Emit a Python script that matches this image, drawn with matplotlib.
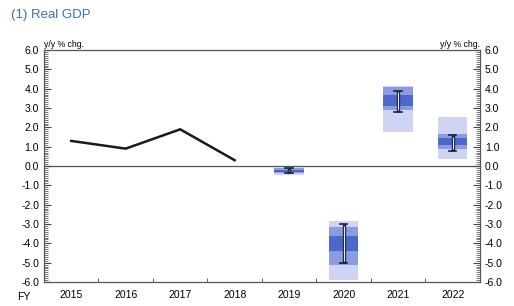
import numpy as np
import matplotlib
matplotlib.use("Agg")
import matplotlib.pyplot as plt
from matplotlib.ticker import MultipleLocator

plt.rcParams['font.family'] = ['Liberation Sans', 'DejaVu Sans']

# Dados
years = ['2015', '2016', '2017', '2018', '2019', '2020', '2021', '2022']
actual = [1.3, 0.9, 1.9, 0.3]

# distribuição das previsões (2019-2022)
outer_lo = [-0.45, -5.9, 1.75, 0.35]
outer_hi = [-0.05, -2.85, 4.15, 2.55]
mid_lo = [-0.35, -5.1, 2.9, 0.9]
mid_hi = [-0.1, -3.15, 4.1, 1.65]
inner_lo = [-0.3, -4.4, 3.1, 1.1]
inner_hi = [-0.2, -3.6, 3.7, 1.45]
range_lo = [-0.35, -5.0, 2.8, 0.8]
range_hi = [-0.1, -3.0, 3.9, 1.6]

x = np.arange(len(years))
xf = x[len(actual):]

fig = plt.figure(figsize=(5.14, 3.06), dpi=100)
ax = fig.add_axes([0.0856, 0.0784, 0.848, 0.758])

w = 0.54
cores = [('#cfd3f4', outer_lo, outer_hi), ('#8a9be0', mid_lo, mid_hi), ('#4a69c9', inner_lo, inner_hi)]
for cor, lo, hi in cores:
    ax.bar(xf, np.array(hi) - np.array(lo), bottom=lo, width=w, color=cor, linewidth=0, zorder=2)

# barras de intervalo
for xi, lo, hi in zip(xf, range_lo, range_hi):
    ax.plot([xi, xi], [lo, hi], color='#1a1f3a', lw=2.4, solid_capstyle='butt', zorder=4)
    ax.plot([xi, xi], [lo + 0.08, hi - 0.08], color='#e8ecff', lw=0.8, solid_capstyle='butt', zorder=5)
    for yy in (lo, hi):
        ax.plot([xi - 0.07, xi + 0.07], [yy, yy], color='#1a1f3a', lw=1.2, zorder=5)

ax.plot(x[:len(actual)], actual, color='#1a1a1a', lw=1.8, zorder=3)
ax.axhline(0, color='#555555', lw=0.9, zorder=1)

ax.set_xlim(-0.5, len(years) - 0.5)
ax.set_ylim(-6, 6)
ax.yaxis.set_minor_locator(MultipleLocator(0.1))
ax.tick_params(axis='y', which='both', direction='in', left=True, right=True,
               labelleft=True, labelright=True, labelsize=7.5, color='#444444')
ax.tick_params(axis='y', which='major', length=5)
ax.tick_params(axis='y', which='minor', length=3, width=0.5)
ax.set_yticks(np.arange(-6, 7, 1))
ax.set_yticklabels([f'{v:.1f}' for v in np.arange(-6, 7, 1)])

ax.set_xticks(x)
ax.set_xticklabels(years)
ax.set_xticks(np.arange(0.5, len(years) - 0.5, 1), minor=True)
ax.tick_params(axis='x', which='major', length=0, labelsize=7.5, pad=6)
ax.tick_params(axis='x', which='minor', direction='in', length=3, color='#444444')

for s in ax.spines.values():
    s.set_color('#555555')
    s.set_linewidth(0.9)

fig.text(0.022, 0.94, '(1) Real GDP', color='#3d6db3', fontsize=9.5)
ax.text(0.0, 1.005, 'y/y % chg.', transform=ax.transAxes, fontsize=6.3, va='bottom', ha='left')
ax.text(1.0, 1.005, 'y/y % chg.', transform=ax.transAxes, fontsize=6.3, va='bottom', ha='right')
fig.text(0.033, 0.02, 'FY', fontsize=7.5)

fig.savefig('out.png', dpi=100)
